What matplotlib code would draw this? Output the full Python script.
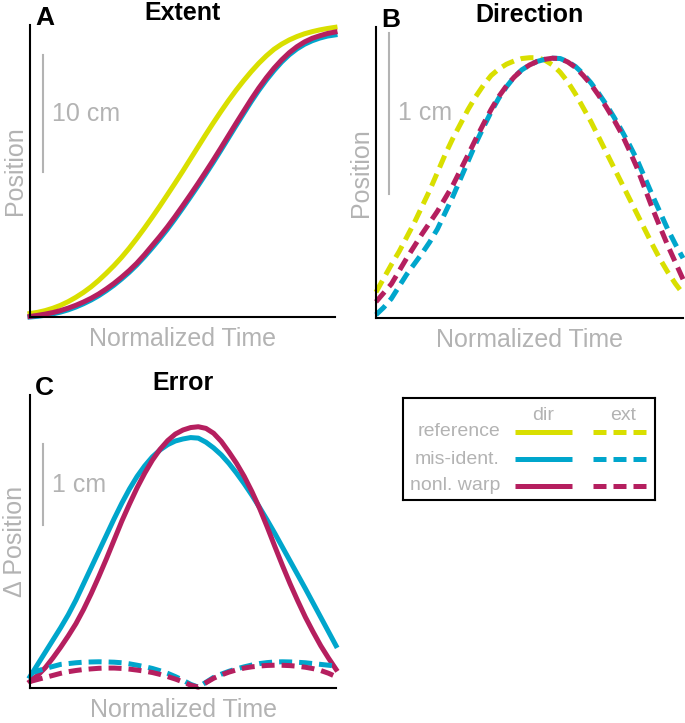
import numpy as np
import matplotlib.pyplot as plt

plt.rcParams['font.family'] = ['Liberation Sans', 'DejaVu Sans']

# Tiempo normalizado (eje x común a los tres paneles)
tiempo = [0.000, 0.025, 0.050, 0.075, 0.100, 0.125, 0.150, 0.175, 0.200, 0.225,
          0.250, 0.275, 0.300, 0.325, 0.350, 0.375, 0.400, 0.425, 0.450, 0.475,
          0.500, 0.525, 0.550, 0.575, 0.600, 0.625, 0.650, 0.675, 0.700, 0.725,
          0.750, 0.775, 0.800, 0.825, 0.850, 0.875, 0.900, 0.925, 0.950, 0.975,
          1.000]

# Panel A: extent (cm)
ref_a = [0.30, 0.40, 0.55, 0.75, 1.00, 1.31, 1.68, 2.10, 2.58, 3.13,
         3.74, 4.39, 5.10, 5.88, 6.72, 7.60, 8.52, 9.47, 10.45, 11.44,
         12.45, 13.49, 14.53, 15.57, 16.58, 17.56, 18.50, 19.39, 20.22, 21.00,
         21.72, 22.36, 22.92, 23.36, 23.72, 24.01, 24.25, 24.43, 24.58, 24.70,
         24.80]
mis_a = [0.00, 0.06, 0.15, 0.27, 0.42, 0.61, 0.85, 1.13, 1.45, 1.82,
         2.25, 2.72, 3.25, 3.82, 4.45, 5.15, 5.90, 6.68, 7.50, 8.38,
         9.30, 10.24, 11.20, 12.19, 13.20, 14.24, 15.30, 16.36, 17.40, 18.43,
         19.40, 20.29, 21.10, 21.83, 22.45, 22.95, 23.35, 23.65, 23.88, 24.05,
         24.15]
warp_a = [0.05, 0.14, 0.25, 0.38, 0.55, 0.76, 1.00, 1.28, 1.60, 1.97,
          2.40, 2.87, 3.40, 3.97, 4.60, 5.32, 6.10, 6.88, 7.70, 8.58,
          9.50, 10.44, 11.40, 12.39, 13.40, 14.44, 15.50, 16.56, 17.60, 18.63,
          19.60, 20.49, 21.30, 22.01, 22.63, 23.14, 23.55, 23.86, 24.08, 24.27,
          24.40]

# Panel B: direction (cm)
ref_b = [0.16, 0.245, 0.33, 0.41, 0.50, 0.59, 0.69, 0.79, 0.90, 1.01,
         1.11, 1.20, 1.29, 1.37, 1.44, 1.50, 1.54, 1.57, 1.59, 1.605,
         1.61, 1.61, 1.595, 1.565, 1.52, 1.46, 1.385, 1.30, 1.215, 1.12,
         1.025, 0.93, 0.835, 0.74, 0.645, 0.55, 0.455, 0.365, 0.285, 0.213,
         0.15]
mis_b = [0.02, 0.065, 0.12, 0.195, 0.27, 0.335, 0.40, 0.47, 0.55, 0.65,
         0.75, 0.86, 0.97, 1.08, 1.18, 1.275, 1.36, 1.43, 1.49, 1.535,
         1.565, 1.587, 1.60, 1.607, 1.605, 1.585, 1.555, 1.51, 1.455, 1.39,
         1.32, 1.243, 1.16, 1.073, 0.98, 0.87, 0.76, 0.655, 0.55, 0.457,
         0.37]
warp_b = [0.10, 0.155, 0.21, 0.29, 0.37, 0.445, 0.52, 0.59, 0.66, 0.74,
          0.82, 0.915, 1.01, 1.107, 1.20, 1.29, 1.37, 1.436, 1.49, 1.534,
          1.565, 1.587, 1.60, 1.607, 1.605, 1.583, 1.55, 1.50, 1.445, 1.378,
          1.305, 1.226, 1.14, 1.038, 0.93, 0.805, 0.68, 0.564, 0.45, 0.345,
          0.24]

# Panel C: error (cm), dir = continuo, ext = discontinuo
mis_c_dir = [0.14, 0.29, 0.44, 0.59, 0.74, 0.90, 1.08, 1.28, 1.48, 1.68,
             1.88, 2.08, 2.27, 2.445, 2.60, 2.73, 2.84, 2.925, 2.99, 3.035,
             3.06, 3.077, 3.07, 3.02, 2.95, 2.865, 2.76, 2.64, 2.51, 2.37,
             2.22, 2.063, 1.90, 1.73, 1.56, 1.39, 1.22, 1.045, 0.87, 0.695,
             0.52]
warp_c_dir = [0.08, 0.155, 0.25, 0.37, 0.50, 0.64, 0.79, 0.965, 1.16, 1.37,
              1.59, 1.82, 2.05, 2.26, 2.46, 2.64, 2.80, 2.933, 3.04, 3.12,
              3.17, 3.20, 3.21, 3.19, 3.13, 3.03, 2.90, 2.76, 2.60, 2.415,
              2.21, 1.98, 1.74, 1.505, 1.28, 1.07, 0.87, 0.69, 0.52, 0.37,
              0.23]
mis_c_ext = [0.18, 0.21, 0.24, 0.265, 0.29, 0.30, 0.31, 0.317, 0.32, 0.322,
             0.32, 0.317, 0.31, 0.297, 0.28, 0.262, 0.24, 0.212, 0.18, 0.14,
             0.095, 0.045, 0.01, 0.07, 0.13, 0.17, 0.205, 0.235, 0.26, 0.282,
             0.30, 0.312, 0.32, 0.322, 0.32, 0.316, 0.31, 0.30, 0.29, 0.28,
             0.27]
warp_c_ext = [0.08, 0.105, 0.13, 0.155, 0.18, 0.20, 0.215, 0.227, 0.235, 0.242,
              0.245, 0.245, 0.24, 0.232, 0.22, 0.207, 0.19, 0.167, 0.14, 0.11,
              0.075, 0.035, 0.01, 0.065, 0.12, 0.16, 0.195, 0.223, 0.245, 0.26,
              0.27, 0.277, 0.28, 0.279, 0.275, 0.267, 0.255, 0.238, 0.215, 0.182,
              0.14]

nombres = ["reference", "mis-ident.", "nonl. warp"]
colores = ["#d9df00", "#00a6cc", "#b51f5f"]
gris = "#b3b3b3"
lw = 3.6
guiones = (0, (2.6, 1.4))

fig = plt.figure(figsize=(6.85, 7.23), dpi=100)


def panel(rect, letra, titulo, ylabel, ymax, barra, texto_barra):
    ax = fig.add_axes(rect)
    ax.set_xlim(0, 1)
    ax.set_ylim(0, ymax)
    for lado in ["top", "right"]:
        ax.spines[lado].set_visible(False)
    for lado in ["left", "bottom"]:
        ax.spines[lado].set_linewidth(1.5)
    ax.set_xticks([])
    ax.set_yticks([])
    ax.set_xlabel("Normalized Time", color=gris, fontsize=18, labelpad=7)
    ax.set_ylabel(ylabel, color=gris, fontsize=18, labelpad=2)
    ax.set_title(titulo, fontsize=18, fontweight="bold", pad=1)
    ax.text(0.016, 1.0, letra, transform=ax.transAxes, fontsize=19,
            fontweight="bold", va="baseline", ha="left")
    # Barra de escala
    tr = ax.get_yaxis_transform()
    ax.plot([0.043, 0.043], barra, color=gris, lw=1.5, transform=tr,
            clip_on=False)
    ax.text(0.072, (barra[0] + barra[1]) / 2, texto_barra, color=gris,
            fontsize=18, va="center", ha="left", transform=tr)
    return ax


# A: Extent
ax_a = panel([30 / 685, 1 - 317 / 723, 305 / 685, 292 / 723],
             "A", "Extent", "Position", 25, [12.4, 22.4], "10 cm")
for serie, c in zip([ref_a, mis_a, warp_a], colores):
    ax_a.plot(tiempo, serie, color=c, lw=lw, clip_on=False)

# B: Direction
ax_b = panel([376 / 685, 1 - 318 / 723, 307 / 685, 291 / 723],
             "B", "Direction", "Position", 1.8, [0.765, 1.765], "1 cm")
for serie, c in zip([ref_b, mis_b, warp_b], colores):
    ax_b.plot(tiempo, serie, color=c, lw=lw, ls=guiones, clip_on=False)

# C: Error
ax_c = panel([30 / 685, 1 - 688 / 723, 306 / 685, 293 / 723],
             "C", "Error", "\u0394 Position", 3.6, [2.0, 3.0], "1 cm")
for serie, c in zip([mis_c_dir, warp_c_dir], colores[1:]):
    ax_c.plot(tiempo, serie, color=c, lw=lw, clip_on=False)
for serie, c in zip([mis_c_ext, warp_c_ext], colores[1:]):
    ax_c.plot(tiempo, serie, color=c, lw=lw, ls=guiones, clip_on=False)

# Leyenda dibujada a mano en su propio recuadro
ax_l = fig.add_axes([403 / 685, 1 - 500 / 723, 252 / 685, 102 / 723])
ax_l.set_xlim(0, 252)
ax_l.set_ylim(102, 0)
ax_l.set_xticks([])
ax_l.set_yticks([])
for s in ax_l.spines.values():
    s.set_linewidth(1.5)
ax_l.text(140, 17, "dir", color=gris, fontsize=14, ha="center", va="center")
ax_l.text(220, 17, "ext", color=gris, fontsize=14, ha="center", va="center")
for fila, (nombre, c) in enumerate(zip(nombres, colores)):
    y = 34 + fila * 27
    ax_l.text(97, y, nombre, color=gris, fontsize=14, ha="right", va="center")
    ax_l.plot([112, 169], [y, y], color=c, lw=lw, solid_capstyle="butt")
    ax_l.plot([190, 243], [y, y], color=c, lw=lw, ls=guiones)

fig.savefig("out.png", dpi=100)
